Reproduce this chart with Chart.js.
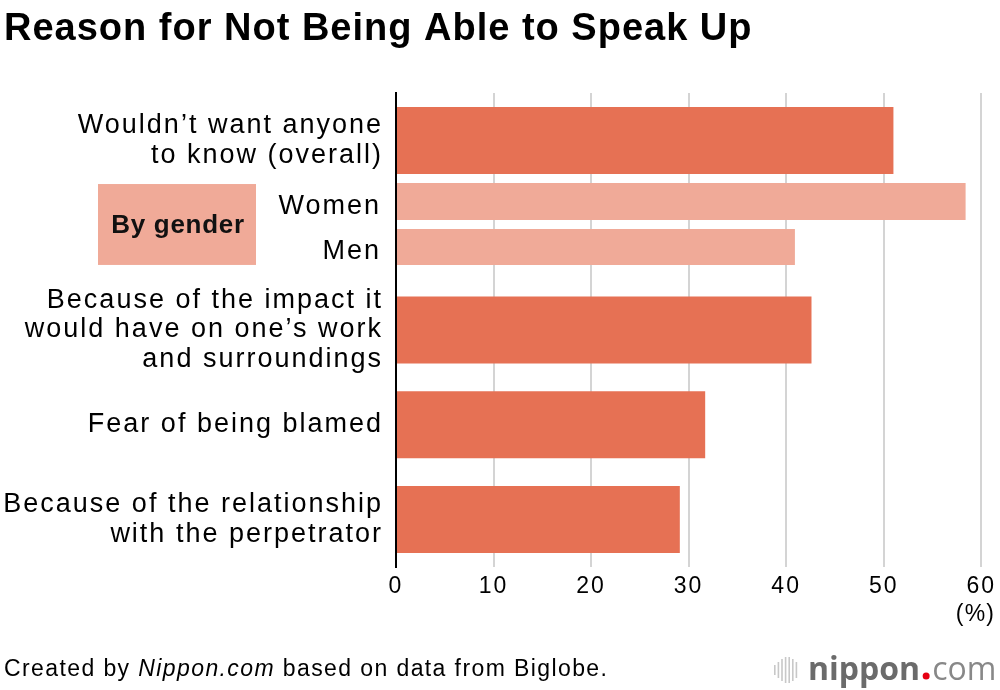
<!DOCTYPE html>
<html>
<head>
<meta charset="utf-8">
<script src="https://cdn.jsdelivr.net/npm/chart.js@4"></script>
<style>
  body { margin: 0; background: #fff; }
  #wrap { width: 1000px; height: 690px; position: relative; }
</style>
</head>
<body>
<div id="wrap"><canvas id="myChart"></canvas></div>
<script>
// chart data
var categories = [
  ['Wouldn\u2019t want anyone', 'to know (overall)'],
  '',
  ['Because of the impact it', 'would have on one\u2019s work', 'and surroundings'],
  'Fear of being blamed',
  ['Because of the relationship', 'with the perpetrator']
];
var overallValues = [51.0, null, 42.6, 31.7, 29.1];
var womenValues = [null, 58.4, null, null, null];
var menValues = [null, 40.9, null, null, null];
var genderLabels = ['Women', 'Men'];
var xTickMax = 60;
var xTickStep = 10;

var FONT = '"Liberation Sans", Arial, Helvetica, sans-serif';
var darkColor = '#e67154';
var lightColor = '#f0aa98';

var extras = {
  id: 'extras',
  beforeDraw: function(chart) {
    // the reference font is wider than Arial, so space the letters a little
    chart.ctx.letterSpacing = '2px';
  },
  afterDraw: function(chart) {
    var c = chart.ctx;
    var xs = chart.scales.x;
    var w = chart.getDatasetMeta(1).data[1];
    var m = chart.getDatasetMeta(2).data[1];
    c.save();

    // title
    c.fillStyle = '#000';
    c.textAlign = 'left';
    c.textBaseline = 'alphabetic';
    c.letterSpacing = '1px';
    c.font = 'bold 38px ' + FONT;
    c.fillText('Reason for Not Being Able to Speak Up', 4, 40);

    // by gender box
    var top = w.y - w.height / 2 + 1;
    var bottom = m.y + m.height / 2;
    c.fillStyle = lightColor;
    c.fillRect(98, top, 158, bottom - top);
    c.fillStyle = '#111';
    c.letterSpacing = '0.7px';
    c.font = 'bold 26px ' + FONT;
    c.textAlign = 'center';
    c.textBaseline = 'middle';
    c.fillText('By gender', 178, (top + bottom) / 2 + 1);

    // women / men labels
    c.fillStyle = '#000';
    c.letterSpacing = '2px';
    c.font = '27px ' + FONT;
    c.textAlign = 'right';
    c.fillText(genderLabels[0], 381, w.y + 5);
    c.fillText(genderLabels[1], 381, m.y + 5);

    // unit
    c.letterSpacing = '1.2px';
    c.font = '23px ' + FONT;
    c.fillText('(%)', xs.getPixelForValue(xTickMax) + 14, 615);

    // footer
    c.textAlign = 'left';
    c.textBaseline = 'alphabetic';
    c.letterSpacing = '1.4px';
    var x = 4, y = 676;
    c.font = '23px ' + FONT;
    c.fillText('Created by ', x, y);
    x += c.measureText('Created by ').width;
    c.font = 'italic 23px ' + FONT;
    c.fillText('Nippon.com', x, y);
    x += c.measureText('Nippon.com').width;
    c.font = '23px ' + FONT;
    c.fillText(' based on data from Biglobe.', x, y);

    // logo
    c.letterSpacing = '0px';
    var bars = [10, 16, 22, 26, 26, 22, 16];
    c.fillStyle = '#c8c8c8';
    for (var i = 0; i < bars.length; i++) {
      c.fillRect(774 + i * 3.6, 670 - bars[i] / 2, 1.6, bars[i]);
    }
    c.font = 'bold 32px "Open Sans", sans-serif';
    c.fillStyle = '#6b6b6b';
    var lx = 808;
    c.fillText('nippon', lx, 680);
    lx += c.measureText('nippon').width + 2;
    c.fillStyle = '#e60012';
    c.beginPath();
    c.arc(lx + 4, 676, 3.5, 0, Math.PI * 2);
    c.fill();
    lx += 10;
    c.font = '32px "Open Sans", sans-serif';
    c.fillStyle = '#888';
    c.fillText('com', lx, 680);
    c.restore();
  }
};

var ctx = document.getElementById('myChart').getContext('2d');
var myChart = new Chart(ctx, {
  type: 'bar',
  data: {
    labels: categories,
    datasets: [{
      label: 'Overall',
      data: overallValues,
      backgroundColor: darkColor,
      barPercentage: 0.739,
      categoryPercentage: 0.956,
      skipNull: true
    }, {
      // the two gender bars sit a little above the middle of their slot
      label: 'Women',
      data: womenValues,
      backgroundColor: lightColor,
      barPercentage: 0.55,
      categoryPercentage: 1.42,
      skipNull: true
    }, {
      label: 'Men',
      data: menValues,
      backgroundColor: lightColor,
      barPercentage: 1.52,
      categoryPercentage: 0.498,
      skipNull: true
    }]
  },
  options: {
    indexAxis: 'y',
    responsive: true,
    maintainAspectRatio: false,
    animation: false,
    layout: { padding: { left: 0, right: 16, top: 93, bottom: 0 } },
    plugins: {
      legend: { display: false },
      tooltip: { enabled: false },
      title: { display: false }
    },
    scales: {
      x: {
        min: 0,
        max: xTickMax,
        ticks: {
          stepSize: xTickStep,
          color: '#000',
          padding: 6,
          font: { family: FONT, size: 23 }
        },
        grid: {
          drawTicks: false,
          lineWidth: 2,
          color: function(c) { return c.tick && c.tick.value === 0 ? '#000' : '#d4d4d4'; }
        },
        border: { display: false },
        afterFit: function(s) { s.height = 123; }
      },
      y: {
        ticks: {
          color: '#000',
          padding: 13,
          font: { family: FONT, size: 27, lineHeight: 1.1 }
        },
        grid: { display: false, drawTicks: false },
        border: { display: true, color: '#000', width: 2 },
        afterFit: function(s) { s.width = 396; }
      }
    }
  },
  plugins: [extras]
});
</script>
</body>
</html>
